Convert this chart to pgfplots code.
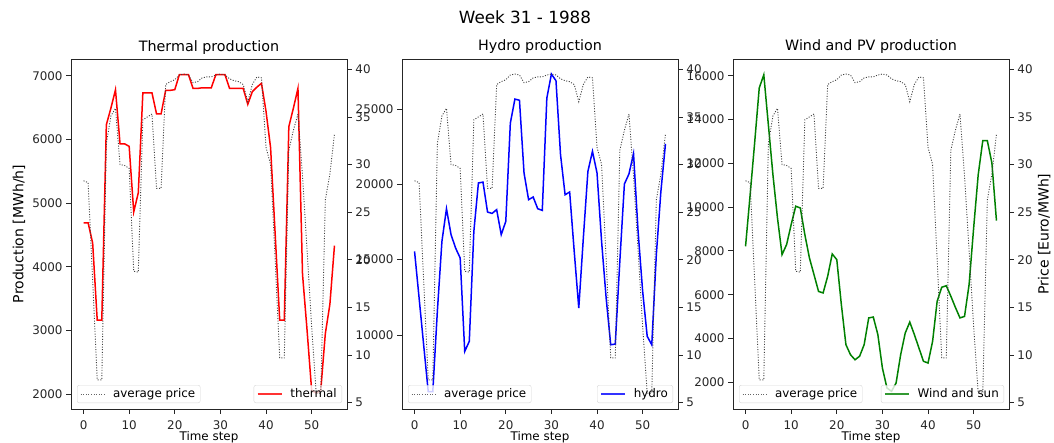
\documentclass[border=0pt]{standalone}
\usepackage{fontspec}
\setmainfont{DejaVu Sans}
\usepackage{pgfplots}
\pgfplotsset{compat=1.18}
\usepackage{pgfplotstable}

\definecolor{mplred}{RGB}{255,0,0}
\definecolor{mplblue}{RGB}{0,0,255}
\definecolor{mplgreen}{RGB}{0,128,0}
\definecolor{spine}{RGB}{38,38,38}

% hourly-ish steps of week 31: production per source and the average price
\pgfplotstableread{
t thermal hydro wind price
0 4690 15550 8210 28.3
1 4690 12450 10550 28.1
2 4370 9330 12950 17.8
3 3160 6240 15440 7.4
4 3160 6240 16040 7.4
5 6230 11570 13760 32.2
6 6490 16210 11480 35.1
7 6780 18380 9500 35.9
8 5930 16660 7830 30.0
9 5930 15770 8290 29.9
10 5890 15110 9200 29.6
11 4860 8910 10040 18.8
12 5160 9580 9960 18.7
13 6730 16880 8740 34.7
14 6730 20090 7680 35.0
15 6730 20150 6920 35.3
16 6400 18160 6150 27.5
17 6400 18070 6080 27.5
18 6770 18320 6840 38.4
19 6770 16660 7860 38.7
20 6780 17540 7600 38.9
21 7015 24070 5550 39.4
22 7015 25660 3720 39.5
23 7015 25580 3260 39.4
24 6800 20750 3030 38.6
25 6800 18980 3190 38.7
26 6810 19160 3720 39.1
27 6810 18380 4940 39.2
28 6810 18270 4980 39.2
29 7015 25730 4180 39.4
30 7015 27320 2650 39.5
31 7015 26880 1740 39.4
32 6800 21970 1590 39.0
33 6800 19310 1970 38.8
34 6800 19490 3260 38.7
35 6800 15550 4250 38.4
36 6550 11790 4750 36.6
37 6750 16440 4180 38.4
38 6820 20860 3570 39.2
39 6880 22190 2960 39.1
40 6440 20750 2880 31.8
41 5870 16210 3870 30.0
42 4520 12450 5700 20.0
43 3160 9350 6340 9.7
44 3160 9400 6410 9.7
45 6200 14900 5930 31.5
46 6490 20020 5420 33.6
47 6800 20690 4940 35.3
48 3880 22040 5010 28.8
49 3000 16880 6460 21.0
50 2060 12900 9050 13.0
51 2015 9910 11480 6.0
52 2060 9350 13030 6.0
53 2950 15330 13030 26.3
54 3410 19530 12010 29.0
55 4330 22680 9380 33.2
}\weekdata

\pgfplotsset{
  legend image code/.code={\draw[#1] (0pt,0pt) -- (24pt,0pt);},
  panel/.style={
    scale only axis, width=276pt, height=350pt,
    xmin=-2.75, xmax=57.75,
    scaled x ticks=false, scaled y ticks=false,
    axis line style={line width=0.8pt, spine},
    every tick/.style={line width=0.8pt, spine},
    tick align=outside, major tick length=4.9pt,
    tick label style={font=\fontsize{11.9}{13}\selectfont, text=spine},
    /pgf/number format/assume math mode=true,
    /pgf/number format/1000 sep={},
    legend style={draw=black!20, rounded corners=2pt, fill=white,
      fill opacity=0.8, draw opacity=0.8, text opacity=1,
      font=\fontsize{11.9}{13}\selectfont, inner xsep=3pt, inner ysep=1.5pt,
      column sep=6pt},
    legend cell align=left,
  },
  prod/.style={
    panel, tick pos=left, xtick={0,10,...,50},
    xticklabel style={anchor=base, yshift=-16pt},
    xlabel={Time step},
    every axis x label/.style={at={([yshift=-31pt]axis description cs:0.5,0)},
      anchor=base, font=\fontsize{11.9}{13}\selectfont},
    every axis title/.style={at={([yshift=8pt]axis description cs:0.5,1)},
      anchor=base, font=\fontsize{14.3}{16}\selectfont},
    legend style={at={([xshift=-5pt,yshift=6pt]axis description cs:1,0)},
      anchor=south east},
  },
  price/.style={
    panel, axis x line=none, axis y line*=right,
    ymin=4.34, ymax=41.08, ytick={5,10,...,40},
    legend style={at={([xshift=6pt,yshift=6pt]axis description cs:0,0)},
      anchor=south west},
  },
  avgprice/.style={black!75, line width=0.9pt, dash pattern=on 1pt off 1.6pt},
}
\newcommand{\labelfont}{\fontsize{14}{16}\selectfont}

\begin{document}
\begin{tikzpicture}
\useasboundingbox (0,0) rectangle (1054pt,442pt);
\node[font=\fontsize{16.8}{19}\selectfont, anchor=base] at (525pt,418.5pt) {Week 31 - 1988};

% thermal
\begin{axis}[prod, at={(71pt,33pt)}, anchor=south west,
  ymin=1765, ymax=7262, ytick={2000,3000,...,7000},
  title={Thermal production},
  ylabel={\labelfont Production [MWh/h]},
  every axis y label/.style={at={([xshift=-47.5pt]axis description cs:0,0.5)},
    anchor=base, rotate=90}]
\addplot[mplred, line width=1.5pt] table[x=t, y=thermal] {\weekdata};
\addlegendentry{thermal}
\end{axis}
\begin{axis}[price, at={(71pt,33pt)}, anchor=south west]
\addplot[avgprice] table[x=t, y=price] {\weekdata};
\addlegendentry{average price}
\end{axis}

% hydro
\begin{axis}[prod, at={(402pt,33pt)}, anchor=south west,
  ymin=5086, ymax=28320, ytick={10000,15000,20000,25000},
  title={Hydro production}]
\addplot[mplblue, line width=1.5pt] table[x=t, y=hydro] {\weekdata};
\addlegendentry{hydro}
\end{axis}
\begin{axis}[price, at={(402pt,33pt)}, anchor=south west]
\addplot[avgprice] table[x=t, y=price] {\weekdata};
\addlegendentry{average price}
\end{axis}

% wind and solar
\begin{axis}[prod, at={(733pt,33pt)}, anchor=south west,
  ymin=781, ymax=16762, ytick={2000,4000,...,16000},
  title={Wind and PV production}]
\addplot[mplgreen, line width=1.5pt] table[x=t, y=wind] {\weekdata};
\addlegendentry{Wind and sun}
\end{axis}
\begin{axis}[price, at={(733pt,33pt)}, anchor=south west,
  ylabel={\labelfont Price [Euro/MWh]},
  every axis y label/.style={at={([xshift=39.5pt]axis description cs:1,0.5)},
    anchor=base, rotate=90}]
\addplot[avgprice] table[x=t, y=price] {\weekdata};
\addlegendentry{average price}
\end{axis}
\end{tikzpicture}
\end{document}
